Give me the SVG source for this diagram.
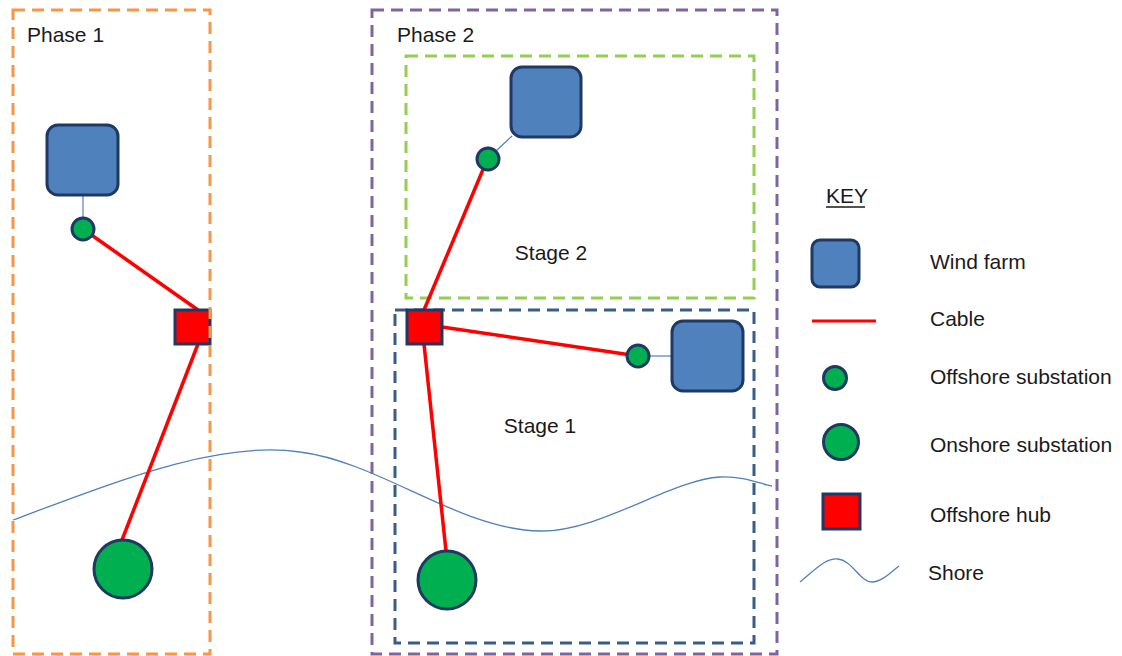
<svg xmlns="http://www.w3.org/2000/svg" width="1122" height="656" viewBox="0 0 1122 656">
<style>
text{font-family:"Liberation Sans",Arial,sans-serif;font-size:21px;fill:#1a1a1a}
.box{fill:none;stroke-width:3;stroke-dasharray:12 7}
.wf{fill:#4F81BD;stroke:#1F3864;stroke-width:3}
.sub{fill:#00B050;stroke:#1F3864;stroke-width:3}
.hub{fill:#FF0000;stroke:#1F3864;stroke-width:3}
.cable{stroke:#FF0000;stroke-width:3.5;fill:none}
.link{stroke:#4F81BD;stroke-width:1.2;fill:none}
.shore{stroke:#4F81BD;stroke-width:1.3;fill:none}
</style>
<rect width="1122" height="656" fill="#fff"/>

<g id="phase2">
<rect class="box" x="372" y="10" width="405" height="644" stroke="#8064A2"/>
<text x="397" y="42">Phase 2</text>
</g>
<g id="stage2">
<rect class="box" x="406" y="56" width="348" height="242" stroke="#92D050"/>
<text x="551" y="260" text-anchor="middle">Stage 2</text>
</g>
<g id="stage1">
<rect class="box" x="395" y="310" width="359" height="333" stroke="#385D8A"/>
<text x="540" y="433" text-anchor="middle">Stage 1</text>
</g>

<path id="shore" class="shore" d="M13,520 C120,480 220,440 300,452 C380,462 460,530 540,531 C600,532 670,480 720,477 C745,476 760,484 772,486"/>

<g id="connectors">
<line class="link" x1="83" y1="195" x2="83" y2="217"/>
<line class="link" x1="496" y1="151" x2="512" y2="136"/>
<line class="link" x1="650" y1="356" x2="672" y2="356"/>
<line class="cable" x1="83" y1="229" x2="198" y2="310"/>
<line class="cable" x1="198" y1="344" x2="122" y2="540"/>
<line class="cable" x1="487" y1="160" x2="424" y2="310"/>
<line class="cable" x1="442" y1="327" x2="638" y2="356"/>
<line class="cable" x1="424" y1="344" x2="446" y2="551"/>
</g>

<g id="windfarm1"><rect class="wf" x="47" y="125" width="71" height="70" rx="11"/></g>
<g id="offsub1"><circle class="sub" cx="83" cy="229" r="11"/></g>
<g id="hub1"><rect class="hub" x="175" y="310" width="35" height="34"/></g>
<g id="onsub1"><circle class="sub" cx="123" cy="569" r="29"/></g>

<g id="windfarm2"><rect class="wf" x="511" y="67" width="70" height="70" rx="11"/></g>
<g id="offsub2"><circle class="sub" cx="488" cy="159" r="11"/></g>
<g id="hub2"><rect class="hub" x="407" y="310" width="35" height="34"/></g>
<g id="offsub3"><circle class="sub" cx="638" cy="356" r="11"/></g>
<g id="windfarm3"><rect class="wf" x="672" y="321" width="71" height="70" rx="11"/></g>
<g id="onsub2"><circle class="sub" cx="447" cy="580" r="29"/></g>

<g id="phase1">
<rect class="box" x="13" y="10" width="197" height="644" stroke="#F79646"/>
<text x="27" y="42">Phase 1</text>
</g>

<g id="key">
<text x="826" y="203">KEY</text>
<line x1="826" y1="207" x2="865" y2="207" stroke="#1a1a1a" stroke-width="1.5"/>
<rect class="wf" x="812" y="240" width="47" height="47" rx="8"/>
<text x="930" y="269">Wind farm</text>
<line x1="812" y1="321" x2="876" y2="321" stroke="#FF0000" stroke-width="3"/>
<text x="930" y="326">Cable</text>
<circle class="sub" cx="835" cy="378" r="11.5"/>
<text x="930" y="384">Offshore substation</text>
<circle class="sub" cx="841" cy="442" r="17.5"/>
<text x="930" y="452">Onshore substation</text>
<rect class="hub" x="823" y="494" width="37" height="35"/>
<text x="930" y="522">Offshore hub</text>
<path class="shore" d="M800,582 C815,570 825,558 838,559 C852,560 860,582 872,582 C882,582 892,571 899,566"/>
<text x="928" y="580">Shore</text>
</g>
</svg>
